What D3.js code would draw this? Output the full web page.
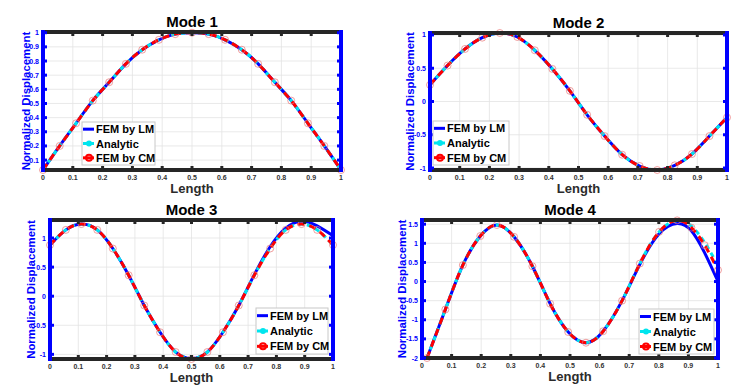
<!DOCTYPE html>
<html>
<head>
<meta charset="utf-8">
<script src="https://cdn.jsdelivr.net/npm/d3@7"></script>
<style>
  body { margin: 0; background: #fff; }
  svg { display: block; font-family: "Liberation Sans", Arial, sans-serif; font-weight: bold; }
</style>
</head>
<body>
<svg id="chart" width="741" height="392"></svg>
<script>
// ---- data ----
const seriesNames = ["FEM by LM", "Analytic", "FEM by CM"];

// Mode 1
const mode1X = [0, 0.056, 0.111, 0.167, 0.222, 0.278, 0.333, 0.389, 0.444, 0.5, 0.556, 0.611, 0.667, 0.722, 0.778, 0.833, 0.889, 0.944, 1];
const mode1LM = [0.03, 0.20, 0.36, 0.52, 0.65, 0.78, 0.88, 0.95, 0.99, 1.00, 0.99, 0.95, 0.88, 0.78, 0.65, 0.52, 0.36, 0.20, 0.03];
const mode1Analytic = [0.03, 0.20, 0.36, 0.52, 0.65, 0.78, 0.88, 0.95, 0.99, 1.00, 0.99, 0.95, 0.88, 0.78, 0.65, 0.52, 0.36, 0.20, 0.03];
const mode1CM = [0.03, 0.20, 0.36, 0.52, 0.65, 0.78, 0.88, 0.95, 0.99, 1.00, 0.99, 0.95, 0.88, 0.78, 0.65, 0.52, 0.36, 0.20, 0.03];

// Mode 2
const mode2X = [0, 0.059, 0.118, 0.176, 0.235, 0.294, 0.353, 0.412, 0.471, 0.529, 0.588, 0.647, 0.706, 0.765, 0.824, 0.882, 0.941, 1];
const mode2LM = [0.25, 0.54, 0.79, 0.96, 1.03, 0.97, 0.77, 0.49, 0.16, -0.20, -0.52, -0.80, -0.97, -1.03, -0.96, -0.79, -0.52, -0.24];
const mode2Analytic = [0.25, 0.54, 0.79, 0.96, 1.03, 0.97, 0.77, 0.49, 0.16, -0.20, -0.52, -0.80, -0.97, -1.03, -0.96, -0.79, -0.52, -0.24];
const mode2CM = [0.25, 0.54, 0.79, 0.96, 1.03, 0.97, 0.77, 0.49, 0.16, -0.20, -0.52, -0.80, -0.97, -1.03, -0.96, -0.79, -0.52, -0.24];

// Mode 3
const mode3X = [0, 0.056, 0.111, 0.167, 0.222, 0.278, 0.333, 0.389, 0.444, 0.5, 0.556, 0.611, 0.667, 0.722, 0.778, 0.833, 0.889, 0.944, 1];
const mode3LM = [0.88, 1.14, 1.24, 1.14, 0.82, 0.36, -0.16, -0.62, -0.96, -1.07, -0.96, -0.62, -0.16, 0.37, 0.85, 1.17, 1.29, 1.21, 1.04];
const mode3Analytic = [0.88, 1.14, 1.24, 1.14, 0.82, 0.36, -0.16, -0.62, -0.96, -1.07, -0.96, -0.62, -0.16, 0.36, 0.82, 1.14, 1.24, 1.14, 0.88];
const mode3CM = [0.88, 1.14, 1.24, 1.14, 0.82, 0.36, -0.16, -0.62, -0.96, -1.08, -0.96, -0.62, -0.16, 0.36, 0.82, 1.14, 1.24, 1.14, 0.88];

// Mode 4
const mode4X = [0.017, 0.079, 0.138, 0.197, 0.253, 0.311, 0.373, 0.433, 0.494, 0.554, 0.612, 0.676, 0.736, 0.801, 0.862, 0.91, 0.955, 1];
const mode4LM = [-2.0, -0.73, 0.43, 1.19, 1.48, 1.17, 0.40, -0.58, -1.32, -1.60, -1.30, -0.50, 0.45, 1.25, 1.52, 1.33, 0.75, 0.0];
const mode4Analytic = [-2.0, -0.73, 0.43, 1.19, 1.48, 1.17, 0.40, -0.58, -1.32, -1.60, -1.30, -0.50, 0.47, 1.30, 1.60, 1.45, 1.02, 0.42];
const mode4CM = [-2.0, -0.73, 0.43, 1.19, 1.48, 1.17, 0.40, -0.58, -1.32, -1.60, -1.30, -0.50, 0.47, 1.30, 1.60, 1.41, 0.95, 0.30];

// ---- layout per panel ----
const panels = [
  {title: "Mode 1", x: mode1X, ys: [mode1LM, mode1Analytic, mode1CM], yDomain: [0.03, 1.005], yTickCount: 10,
   box: {x0: 43, x1: 341, y0: 32, y1: 170}, yLabelX: 26, legend: {x: 82, y: 122, w: 73, h: 43}},
  {title: "Mode 2", x: mode2X, ys: [mode2LM, mode2Analytic, mode2CM], yDomain: [-1.03, 1.03], yTickCount: 5,
   box: {x0: 430, x1: 727, y0: 33, y1: 170}, yLabelX: 410, legend: {x: 433, y: 121, w: 76, h: 44}},
  {title: "Mode 3", x: mode3X, ys: [mode3LM, mode3Analytic, mode3CM], yDomain: [-1.08, 1.31], yTickCount: 5,
   box: {x0: 50, x1: 333, y0: 220, y1: 359}, yLabelX: 31, legend: {x: 256, y: 308, w: 72, h: 46}},
  {title: "Mode 4", x: mode4X, ys: [mode4LM, mode4Analytic, mode4CM], yDomain: [-2.0, 1.61], yTickCount: 8,
   box: {x0: 422, x1: 718, y0: 220, y1: 358}, yLabelX: 402, legend: {x: 639, y: 309, w: 75, h: 45}}
];

const svg = d3.select("#chart");
const fmt = v => String(+v.toFixed(2));
const darkAxis = "#262626";
const blueAxis = "#0000ff";

//styles of the three curves: blue solid, cyan dashed, red dashed
const lineStyles = [
  {color: "#0000ff", dash: null},
  {color: "#00e5ee", dash: "5,4"},
  {color: "#ff0000", dash: "7,5"}
];

function drawPanel(p) {
  const b = p.box;
  const x = d3.scaleLinear().domain([0, 1]).range([b.x0, b.x1]);
  const y = d3.scaleLinear().domain(p.yDomain).range([b.y1, b.y0]);
  const g = svg.append("g");
  const xTicks = x.ticks(10);
  const yTicks = y.ticks(p.yTickCount);

  // grid
  g.selectAll(".gx").data(xTicks).enter().append("line")
    .attr("x1", d => x(d)).attr("x2", d => x(d))
    .attr("y1", b.y0).attr("y2", b.y1)
    .attr("stroke", "#e3e3e3").attr("stroke-width", 0.8);
  g.selectAll(".gy").data(yTicks).enter().append("line")
    .attr("x1", b.x0).attr("x2", b.x1)
    .attr("y1", d => y(d)).attr("y2", d => y(d))
    .attr("stroke", "#e3e3e3").attr("stroke-width", 0.8);

  // curves
  const line = d3.line().x(d => x(d[0])).y(d => y(d[1])).curve(d3.curveNatural);
  p.ys.forEach((vals, i) => {
    const pts = p.x.map((xv, k) => [xv, vals[k]]);
    g.append("path").datum(pts)
      .attr("d", line)
      .attr("fill", "none")
      .attr("stroke", lineStyles[i].color)
      .attr("stroke-width", 3)
      .attr("stroke-dasharray", lineStyles[i].dash);
  });

  // markers of FEM by CM
  g.selectAll(".mk").data(p.x.map((xv, k) => [xv, p.ys[2][k]])).enter().append("circle")
    .attr("cx", d => x(d[0])).attr("cy", d => y(d[1]))
    .attr("r", 3.5)
    .attr("fill", "none")
    .attr("stroke", "rgba(235,120,120,0.7)")
    .attr("stroke-width", 1);

  // frame: dark top/bottom, blue left/right
  [b.y0, b.y1].forEach(yy => {
    g.append("line").attr("x1", b.x0 - 2).attr("x2", b.x1 + 2)
      .attr("y1", yy).attr("y2", yy)
      .attr("stroke", darkAxis).attr("stroke-width", 4);
  });
  xTicks.forEach(t => {
    g.append("line").attr("x1", x(t)).attr("x2", x(t))
      .attr("y1", b.y0).attr("y2", b.y0 + 4)
      .attr("stroke", darkAxis).attr("stroke-width", 3);
    g.append("line").attr("x1", x(t)).attr("x2", x(t))
      .attr("y1", b.y1).attr("y2", b.y1 - 4)
      .attr("stroke", darkAxis).attr("stroke-width", 3);
  });
  [b.x0, b.x1].forEach(xx => {
    g.append("line").attr("x1", xx).attr("x2", xx)
      .attr("y1", b.y0 - 2).attr("y2", b.y1 + 2)
      .attr("stroke", blueAxis).attr("stroke-width", 4);
  });
  yTicks.forEach(t => {
    g.append("line").attr("x1", b.x0).attr("x2", b.x0 + 4)
      .attr("y1", y(t)).attr("y2", y(t))
      .attr("stroke", blueAxis).attr("stroke-width", 3);
    g.append("line").attr("x1", b.x1).attr("x2", b.x1 - 4)
      .attr("y1", y(t)).attr("y2", y(t))
      .attr("stroke", blueAxis).attr("stroke-width", 3);
  });

  // tick labels
  g.selectAll(".xl").data(xTicks).enter().append("text")
    .attr("x", d => x(d)).attr("y", b.y1 + 10)
    .attr("text-anchor", "middle")
    .attr("font-size", 7).attr("fill", "#333")
    .text(fmt);
  g.selectAll(".yl").data(yTicks).enter().append("text")
    .attr("x", b.x0 - 4).attr("y", d => y(d) + 2.5)
    .attr("text-anchor", "end")
    .attr("font-size", 7).attr("fill", blueAxis)
    .text(fmt);

  // titles
  g.append("text").attr("x", (b.x0 + b.x1) / 2).attr("y", b.y0 - 5)
    .attr("text-anchor", "middle").attr("font-size", 15).attr("fill", "#000")
    .text(p.title);
  g.append("text").attr("x", (b.x0 + b.x1) / 2).attr("y", b.y1 + 23)
    .attr("text-anchor", "middle").attr("font-size", 13).attr("fill", "#2b2b2b")
    .text("Length");
  g.append("text")
    .attr("transform", "translate(" + p.yLabelX + "," + (b.y0 + b.y1) / 2 + ") rotate(-90)")
    .attr("text-anchor", "middle").attr("dominant-baseline", "central")
    .attr("font-size", 11.4).attr("fill", blueAxis)
    .text("Normalized Displacement");

  // legend
  const L = p.legend;
  const lg = g.append("g").attr("transform", "translate(" + L.x + "," + L.y + ")");
  lg.append("rect").attr("width", L.w).attr("height", L.h)
    .attr("fill", "#fff").attr("stroke", "#c8c8c8").attr("stroke-width", 1);
  const rowH = L.h / 3;
  seriesNames.forEach((name, i) => {
    const cy = rowH * (i + 0.5);
    lg.append("line").attr("x1", 1).attr("x2", 12).attr("y1", cy).attr("y2", cy)
      .attr("stroke", lineStyles[i].color).attr("stroke-width", 3);
    if (i == 1) {
      lg.append("circle").attr("cx", 7).attr("cy", cy).attr("r", 3).attr("fill", lineStyles[i].color);
    }
    if (i == 2) {
      lg.append("circle").attr("cx", 7).attr("cy", cy).attr("r", 3)
        .attr("fill", "none").attr("stroke", lineStyles[i].color).attr("stroke-width", 2);
    }
    lg.append("text").attr("x", 14).attr("y", cy + 4)
      .attr("font-size", 11).attr("fill", "#000")
      .text(name);
  });
}

panels.forEach(drawPanel);
</script>
</body>
</html>
